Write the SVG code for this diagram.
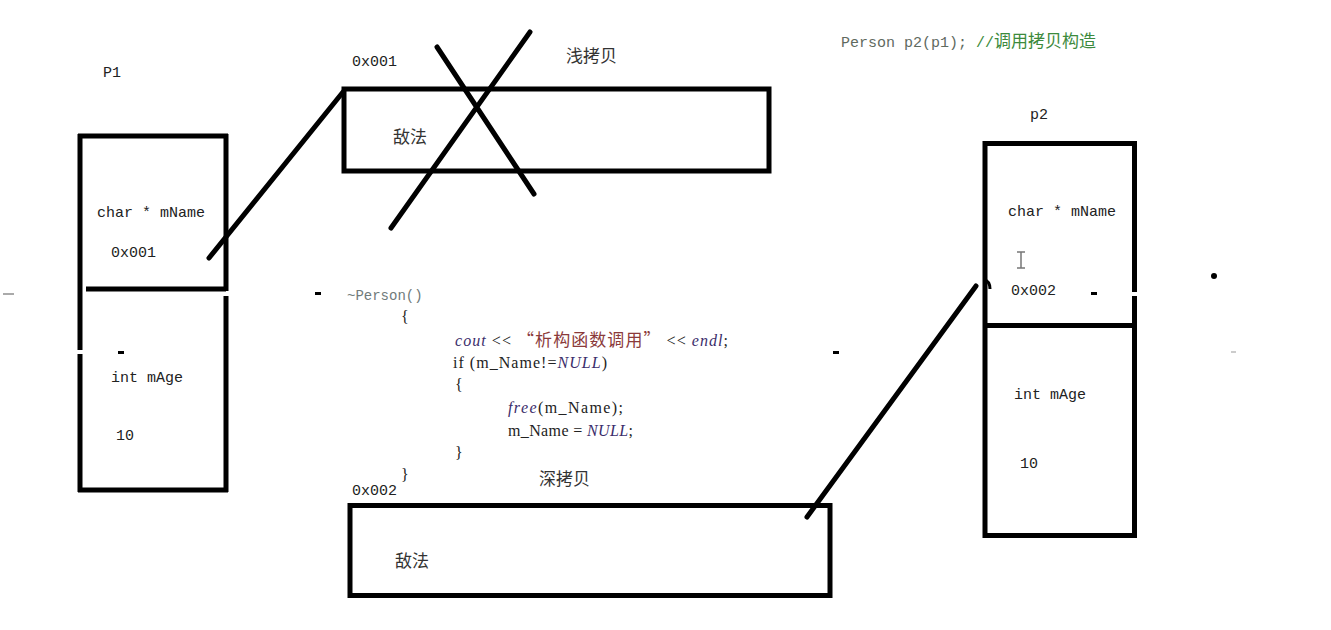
<svg xmlns="http://www.w3.org/2000/svg" width="1331" height="630" viewBox="0 0 1331 630">
<style>
.ln{stroke:#000;stroke-width:5;fill:none;stroke-linecap:butt}
.cn{stroke:#000;stroke-width:5;fill:none;stroke-linecap:round}
.mono{font-family:"Liberation Mono","DejaVu Sans Mono",monospace;font-size:15px;fill:#222}
.cjk{font-family:"Noto Sans CJK SC","Noto Sans",sans-serif;font-size:17px;fill:#333}
.code{font-family:"Liberation Serif","Noto Sans CJK SC",serif;font-size:16px;fill:#222}
.it{font-style:italic;fill:#3b2d6b}
.red{fill:#8b3a3a;font-family:"Noto Sans CJK SC",sans-serif;font-size:17px}
.mark{fill:#000}
</style>
<rect width="1331" height="630" fill="#ffffff"/>

<g id="title">
<text x="841" y="47" class="mono" fill="#666" style="fill:#5f6a5f">Person p2(p1); <tspan style="fill:#3c8a3c">//</tspan><tspan style="fill:#3c8a3c;font-family:'Noto Sans CJK SC',sans-serif;font-size:17px">调用拷贝构造</tspan></text>
</g>

<g id="p1">
<text x="103" y="77" class="mono">P1</text>
<path class="ln" d="M80 134V350M80 354V492M78 136H228M226 134V291M226 296V492M78 490H228M86 289H226"/>
<text x="97" y="217" class="mono">char * mName</text>
<text x="111" y="257" class="mono">0x001</text>
<text x="111" y="382" class="mono">int mAge</text>
<text x="116" y="440" class="mono">10</text>
</g>

<g id="p2">
<text x="1030" y="119" class="mono">p2</text>
<path class="ln" d="M985 141V538M983 143.5H1137M1134.5 141V292M1134.5 296V538M983 535.5H1137M985 325.5H1134"/>
<text x="1008" y="216" class="mono">char * mName</text>
<text x="1011" y="295" class="mono">0x002</text>
<text x="1014" y="399" class="mono">int mAge</text>
<text x="1020" y="468" class="mono">10</text>
<path d="M1017 252H1025M1021 252V268M1017 268H1025" stroke="#777" stroke-width="1.5" fill="none"/>
</g>

<g id="shallow">
<text x="352" y="66" class="mono">0x001</text>
<text x="566" y="62" class="cjk">浅拷贝</text>
<rect x="344" y="89" width="425" height="82" class="ln"/>
<text x="393" y="143" class="cjk">敌法</text>
<path class="cn" d="M437 47L534 194M530 32L391 228"/>
</g>

<g id="deep">
<text x="352" y="495" class="mono">0x002</text>
<text x="539" y="485" class="cjk">深拷贝</text>
<rect x="350" y="505.5" width="480" height="90" class="ln"/>
<text x="395" y="567" class="cjk">敌法</text>
</g>

<g id="destructor">
<text x="347" y="300" class="code" style="fill:#6f7a7a;font-family:'Liberation Mono',monospace;font-size:14px">~Person()</text>
<text x="401" y="322" class="code">{</text>
<text x="455" y="346" class="code" textLength="273" lengthAdjust="spacing"><tspan class="it">cout</tspan> &lt;&lt; <tspan class="red">“析构函数调用”</tspan> &lt;&lt; <tspan class="it">endl</tspan>;</text>
<text x="453" y="368" class="code" textLength="154" lengthAdjust="spacing">if (m_Name!=<tspan class="it">NULL</tspan>)</text>
<text x="455" y="390" class="code">{</text>
<text x="508" y="413" class="code" textLength="115" lengthAdjust="spacing"><tspan class="it">free</tspan>(m_Name);</text>
<text x="508" y="436" class="code" textLength="125" lengthAdjust="spacing">m_Name = <tspan class="it">NULL</tspan>;</text>
<text x="455" y="458" class="code">}</text>
<text x="401" y="480" class="code">}</text>
</g>

<g id="connectors">
<path class="cn" d="M209 258L343 92"/>
<path class="cn" d="M807 517L976 286"/>
<path d="M984 280Q990 281 990 289" stroke="#000" stroke-width="3" fill="none"/>
</g>

<g id="marks">
<rect x="118" y="351" width="6" height="3" class="mark"/>
<rect x="315" y="292" width="6" height="3" class="mark"/>
<rect x="833" y="351" width="6" height="3" class="mark"/>
<rect x="1091" y="292" width="6" height="3" class="mark"/>
<circle cx="1214" cy="276" r="3" class="mark"/>
<rect x="3" y="293" width="11" height="2" fill="#aaa"/>
<rect x="1231" y="351" width="5" height="2" fill="#ccc"/>
</g>
</svg>
